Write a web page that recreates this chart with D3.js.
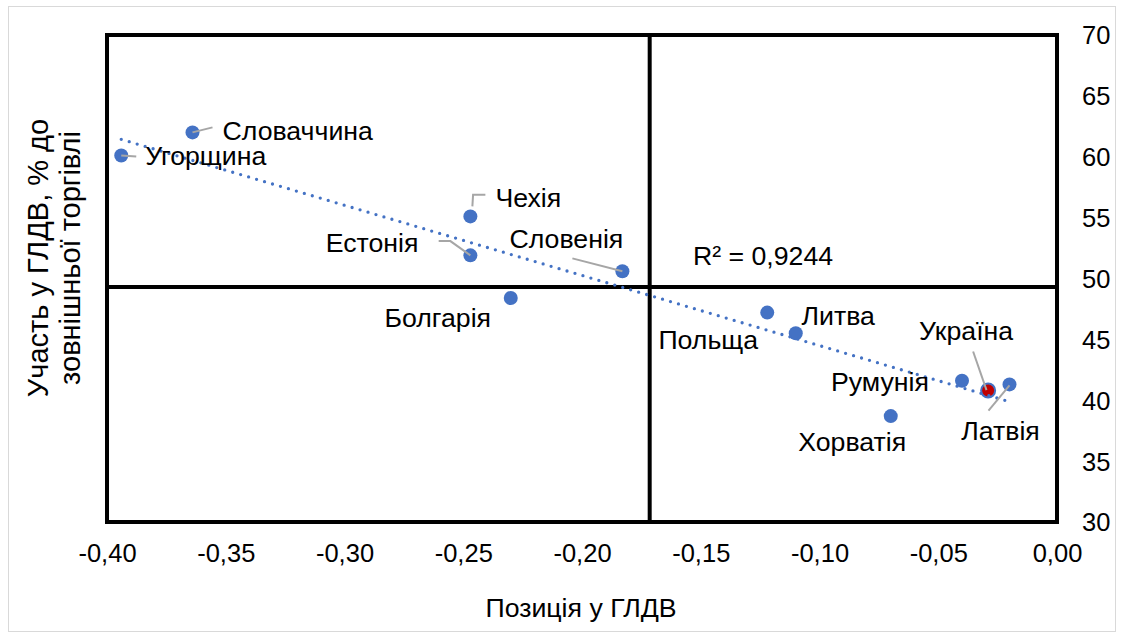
<!DOCTYPE html>
<html>
<head>
<meta charset="utf-8">
<script src="https://cdn.jsdelivr.net/npm/d3@7"></script>
<style>
  body { margin: 0; background: #fff; }
  svg text { font-family: "Liberation Sans", Arial, sans-serif; fill: #000; }
</style>
</head>
<body>
<div id="chart"></div>
<script>
// data
var countries = ["Угорщина", "Словаччина", "Чехія", "Естонія", "Словенія", "Болгарія",
  "Польща", "Литва", "Хорватія", "Румунія", "Україна", "Латвія"];
var gvcPosition = [-0.394, -0.364, -0.247, -0.247, -0.183, -0.230,
  -0.122, -0.110, -0.070, -0.040, -0.029, -0.020];
var gvcParticipation = [60.1, 62.0, 55.1, 51.9, 50.6, 48.4,
  47.2, 45.5, 38.7, 41.6, 40.8, 41.3];
var highlight = "Україна";

var xTicks = [-0.40, -0.35, -0.30, -0.25, -0.20, -0.15, -0.10, -0.05, 0.00];
var yTicks = [30, 35, 40, 45, 50, 55, 60, 65, 70];
var xCross = -0.1715;
var yCross = 49.3;
var r2Text = "R² = 0,9244";
var xTitle = "Позиція у ГЛДВ";
var yTitle = ["Участь у ГЛДВ, % до", "зовнішньої торгівлі"];

// label placement (pixel offsets from the marker), leader = polyline offsets
var labelLayout = {
  "Угорщина":   { anchor: "start",  dx: 24,  dy: 0.5, leader: [[0, 0], [15, 1]] },
  "Словаччина": { anchor: "start",  dx: 30,  dy: -1.5, leader: [[0, 0], [20, -5]] },
  "Чехія":      { anchor: "start",  dx: 25,  dy: -19, leader: [[2, -10], [2.7, -21.7], [15, -21.7]] },
  "Естонія":    { anchor: "end",    dx: -52, dy: -13, leader: [[0, 0], [-20, -14.3], [-31.7, -14.3]] },
  "Словенія":   { anchor: "middle", dx: -56, dy: -32.5, leader: [[0, 0], [-50, -12.8]] },
  "Болгарія":   { anchor: "middle", dx: -73, dy: 20 },
  "Польща":     { anchor: "middle", dx: -59, dy: 27 },
  "Литва":      { anchor: "middle", dx: 42.5, dy: -18 },
  "Хорватія":   { anchor: "middle", dx: -38.5, dy: 26 },
  "Румунія":    { anchor: "middle", dx: -82, dy: 1 },
  "Україна":    { anchor: "middle", dx: -22, dy: -60, leader: [[-15, -39], [-1.6, -0.4]] },
  "Латвія":     { anchor: "middle", dx: -9,  dy: 46.5, leader: [[-21, 26.2], [0, 1]] }
};

var W = 1122, H = 637;
var fontSize = 26.7;
var tickFont = 25.5;
var yTitleFont = 29;
var blue = "#4472C4";

var data = countries.map(function (c, i) {
  return { country: c, x: gvcPosition[i], y: gvcParticipation[i] };
});

var svg = d3.select("#chart").append("svg")
  .attr("width", W)
  .attr("height", H);

// outer chart border
svg.append("rect")
  .attr("x", 8.5).attr("y", 6.5)
  .attr("width", 1107).attr("height", 625)
  .attr("fill", "#fff")
  .attr("stroke", "#D9D9D9")
  .attr("stroke-width", 1);

var x = d3.scaleLinear().domain([-0.4, 0]).range([107, 1057]);
var y = d3.scaleLinear().domain([30, 70]).range([522, 35]);

var locale = d3.formatLocale({ decimal: ",", thousands: " ", grouping: [3], currency: ["", ""], minus: "-" });
var fmtX = locale.format(".2f");

// plot area frame
svg.append("rect")
  .attr("x", x(-0.4)).attr("y", y(70))
  .attr("width", x(0) - x(-0.4)).attr("height", y(30) - y(70))
  .attr("fill", "none")
  .attr("stroke", "#000")
  .attr("stroke-width", 4);

// crossing axes
svg.append("line")
  .attr("x1", x(xCross)).attr("x2", x(xCross))
  .attr("y1", y(70)).attr("y2", y(30))
  .attr("stroke", "#000").attr("stroke-width", 4);
svg.append("line")
  .attr("x1", x(-0.4)).attr("x2", x(0))
  .attr("y1", y(yCross)).attr("y2", y(yCross))
  .attr("stroke", "#000").attr("stroke-width", 4);

// X axis labels
var gx = svg.append("g")
  .attr("transform", "translate(0," + y(30) + ")")
  .call(d3.axisBottom(x).tickValues(xTicks).tickFormat(fmtX).tickSize(0));
gx.select(".domain").remove();
gx.selectAll("text")
  .attr("y", 31)
  .attr("dy", "0.35em")
  .style("font-size", tickFont + "px")
  .style("font-family", "Liberation Sans, Arial, sans-serif")
  .attr("fill", "#000");

// Y axis labels on the right
var gy = svg.append("g")
  .attr("transform", "translate(" + x(0) + ",0)")
  .call(d3.axisRight(y).tickValues(yTicks).tickFormat(d3.format("d")).tickSize(0));
gy.select(".domain").remove();
gy.selectAll("text")
  .attr("x", 25)
  .attr("dy", "0.35em")
  .style("font-size", tickFont + "px")
  .style("font-family", "Liberation Sans, Arial, sans-serif")
  .attr("fill", "#000");

// axis titles
svg.append("text")
  .attr("x", 581).attr("y", 608)
  .attr("dy", "0.35em")
  .attr("text-anchor", "middle")
  .style("font-size", fontSize + "px")
  .text(xTitle);

var yt = svg.append("text")
  .attr("transform", "translate(38,258) rotate(-90)")
  .attr("text-anchor", "middle")
  .style("font-size", yTitleFont + "px");
yTitle.forEach(function (line, i) {
  yt.append("tspan")
    .attr("x", 0)
    .attr("y", i * 32)
    .attr("dy", "0.35em")
    .text(line);
});

// markers
svg.selectAll("circle.pt")
  .data(data)
  .enter()
  .append("circle")
  .attr("class", "pt")
  .attr("cx", function (d) { return x(d.x); })
  .attr("cy", function (d) { return y(d.y); })
  .attr("r", 7)
  .attr("fill", function (d) { return d.country === highlight ? "#C00000" : blue; })
  .attr("stroke", function (d) { return d.country === highlight ? blue : "none"; })
  .attr("stroke-width", 2);

// linear trend line
var mx = d3.mean(data, function (d) { return d.x; });
var my = d3.mean(data, function (d) { return d.y; });
var sxy = d3.sum(data, function (d) { return (d.x - mx) * (d.y - my); });
var sxx = d3.sum(data, function (d) { return (d.x - mx) * (d.x - mx); });
var slope = sxy / sxx;
var intercept = my - slope * mx;
var xExt = d3.extent(data, function (d) { return d.x; });

svg.append("line")
  .attr("x1", x(xExt[0])).attr("y1", y(intercept + slope * xExt[0]))
  .attr("x2", x(xExt[1])).attr("y2", y(intercept + slope * xExt[1]))
  .attr("stroke", blue)
  .attr("stroke-width", 3.3)
  .attr("stroke-linecap", "round")
  .attr("stroke-dasharray", "0 8.3");

svg.append("text")
  .attr("x", x(-0.1533)).attr("y", y(51.9))
  .attr("dy", "0.35em")
  .style("font-size", fontSize + "px")
  .text(r2Text);

// leader lines
data.forEach(function (d) {
  var lay = labelLayout[d.country];
  if (!lay || !lay.leader) return;
  var px = x(d.x), py = y(d.y);
  svg.append("polyline")
    .attr("points", lay.leader.map(function (p) { return (px + p[0]) + "," + (py + p[1]); }).join(" "))
    .attr("fill", "none")
    .attr("stroke", "#A6A6A6")
    .attr("stroke-width", 2);
});

// country labels
svg.selectAll("text.lbl")
  .data(data)
  .enter()
  .append("text")
  .attr("class", "lbl")
  .attr("x", function (d) { return x(d.x) + labelLayout[d.country].dx; })
  .attr("y", function (d) { return y(d.y) + labelLayout[d.country].dy; })
  .attr("dy", "0.35em")
  .attr("text-anchor", function (d) { return labelLayout[d.country].anchor; })
  .style("font-size", fontSize + "px")
  .text(function (d) { return d.country; });
</script>
</body>
</html>
